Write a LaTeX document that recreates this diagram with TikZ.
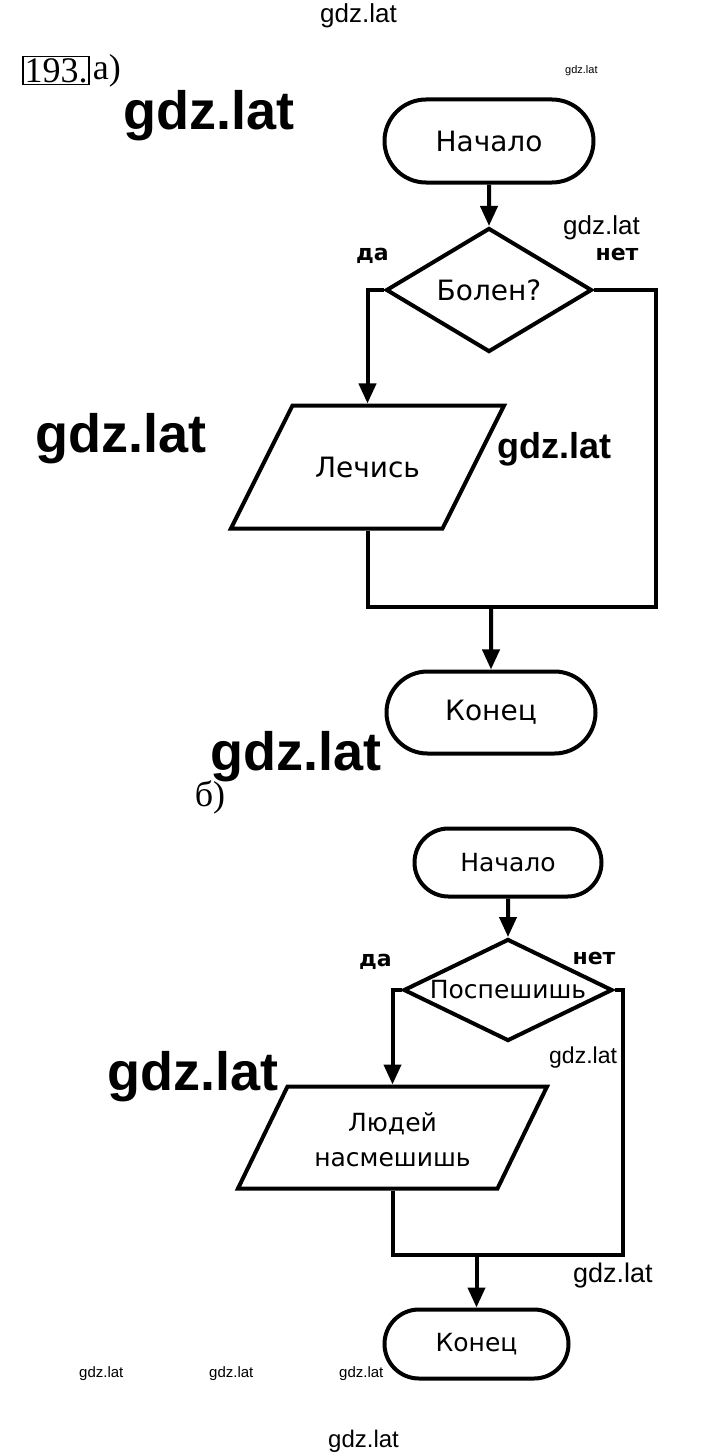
\documentclass[tikz,border=0pt]{standalone}
\usepackage{fontspec}
\setmainfont{DejaVu Sans}
\newfontfamily\wmfont{Liberation Sans}
\newfontfamily\numfont{Liberation Serif}
\usetikzlibrary{positioning, shapes, shapes.geometric, arrows.meta}
\tikzstyle{terminal} = [draw, rounded rectangle, line width=4pt,
    inner sep=0pt]
\tikzstyle{decision} = [draw, diamond, line width=4pt,
    inner sep=0pt, aspect=2]
\tikzstyle{io} = [draw, trapezium, line width=4pt,
    inner sep=0pt, align=center]
\tikzstyle{line} = [line width=4pt]
\tikzstyle{wmbig} = [anchor=base west, inner sep=0pt,
    font=\wmfont\bfseries\fontsize{54pt}{54pt}\selectfont]
\tikzstyle{wmtext} = [anchor=base west, inner sep=0pt, font=\wmfont]

\begin{document}
\begin{tikzpicture}[x=1pt, y=1pt, >={Triangle[length=20pt, width=17pt]}]
        \useasboundingbox (0,0) rectangle (720,-1453);

        % a)
        \node[
            draw, line width=1.2pt, inner sep=1.5pt,
            font=\numfont\fontsize{36pt}{36pt}\selectfont
        ](num) at (56,-70.5){193.};
        \node[
            right=3pt of num,
            font=\numfont\fontsize{36pt}{36pt}\selectfont,
            inner sep=0pt
        ](parta){а)};

        \node[
            terminal,
            minimum width=209pt, minimum height=83pt,
            font=\fontsize{28pt}{30pt}\selectfont
        ](startA) at (489,-141){Начало};

        \node[
            decision,
            below of=startA,
            node distance=149pt,
            minimum width=206pt, minimum height=124pt,
            font=\fontsize{28pt}{30pt}\selectfont
        ](decA){Болен?};

        \node[
            io,
            trapezium left angle=63.4, trapezium right angle=116.6,
            text width=150pt, text height=71.5pt, text depth=51.5pt,
            font=\fontsize{28pt}{30pt}\selectfont
        ](treatA) at (367.5,-467){Лечись};

        \node[
            terminal,
            minimum width=209pt, minimum height=82pt,
            font=\fontsize{28pt}{30pt}\selectfont
        ](endA) at (491,-712.5){Конец};

        \coordinate (rightA) at (656,-607);
        \coordinate (mergeA) at (491,-607);

        \draw[line, ->] (startA) -- (decA);
        \draw[line, ->] (decA.west) -| node[pos=0.5, xshift=5pt, yshift=34pt,
            font=\bfseries\fontsize{22pt}{22pt}\selectfont]{да} (treatA.north);
        \draw[line] (decA.east) -| node[pos=0.5, xshift=-39pt, yshift=36pt,
            font=\bfseries\fontsize{22pt}{22pt}\selectfont]{нет} (rightA) -- (mergeA);
        \draw[line] (treatA.south) |- (mergeA);
        \draw[line, ->] (mergeA) -- (endA);

        % b)
        \node[
            font=\numfont\fontsize{36pt}{36pt}\selectfont,
            inner sep=0pt
        ](partb) at (210,-797){б)};

        \node[
            terminal,
            minimum width=187pt, minimum height=68pt,
            font=\fontsize{25pt}{27pt}\selectfont
        ](startB) at (508,-862.5){Начало};

        \node[
            decision,
            below of=startB,
            node distance=127.5pt,
            minimum width=209pt, minimum height=102pt,
            font=\fontsize{25pt}{27pt}\selectfont
        ](decB){Поспешишь};

        \node[
            io,
            trapezium left angle=64.1, trapezium right angle=115.9,
            text width=210pt, text height=44.5pt, text depth=57.5pt,
            font=\fontsize{25pt}{35pt}\selectfont
        ](treatB) at (392.5,-1137.5){Людей\\насмешишь};

        \node[
            terminal,
            minimum width=184pt, minimum height=69pt,
            font=\fontsize{25pt}{27pt}\selectfont
        ](endB) at (476.5,-1344){Конец};

        \coordinate (rightB) at (623,-1255);
        \coordinate (mergeB) at (476.5,-1255);

        \draw[line, ->] (startB) -- (decB);
        \draw[line, ->] (decB.west) -| node[pos=0.5, xshift=-17pt, yshift=28pt,
            font=\bfseries\fontsize{22pt}{22pt}\selectfont]{да} (treatB.north);
        \draw[line] (decB.east) -| node[pos=0.5, xshift=-29pt, yshift=32pt,
            font=\bfseries\fontsize{22pt}{22pt}\selectfont]{нет} (rightB) -- (mergeB);
        \draw[line] (treatB.south) |- (mergeB);
        \draw[line, ->] (mergeB) -- (endB);

        % watermarks
        \node[wmtext, font=\wmfont\fontsize{26pt}{26pt}\selectfont] (wm1) at (320,-23){gdz.lat};
        \node[wmtext, font=\wmfont\fontsize{11pt}{11pt}\selectfont] (wm2) at (565,-74){gdz.lat};
        \node[wmbig] (wm3) at (123,-130){gdz.lat};
        \node[wmtext, font=\wmfont\fontsize{26pt}{26pt}\selectfont] (wm4) at (563,-234){gdz.lat};
        \node[wmbig] (wm5) at (35,-452){gdz.lat};
        \node[wmtext, font=\wmfont\bfseries\fontsize{36pt}{36pt}\selectfont] (wm6) at (497,-458){gdz.lat};
        \node[wmbig] (wm7) at (210,-770){gdz.lat};
        \node[wmbig] (wm8) at (107,-1090){gdz.lat};
        \node[wmtext, font=\wmfont\fontsize{23pt}{23pt}\selectfont] (wm9) at (549,-1063){gdz.lat};
        \node[wmtext, font=\wmfont\fontsize{27pt}{27pt}\selectfont] (wm10) at (573,-1282){gdz.lat};
        \node[wmtext, font=\wmfont\fontsize{15pt}{15pt}\selectfont] (wm11) at (79,-1377){gdz.lat};
        \node[wmtext, font=\wmfont\fontsize{15pt}{15pt}\selectfont] (wm12) at (209,-1377){gdz.lat};
        \node[wmtext, font=\wmfont\fontsize{15pt}{15pt}\selectfont] (wm13) at (339,-1377){gdz.lat};
        \node[wmtext, font=\wmfont\fontsize{24pt}{24pt}\selectfont] (wm14) at (328,-1447){gdz.lat};
    \end{tikzpicture}
\end{document}
